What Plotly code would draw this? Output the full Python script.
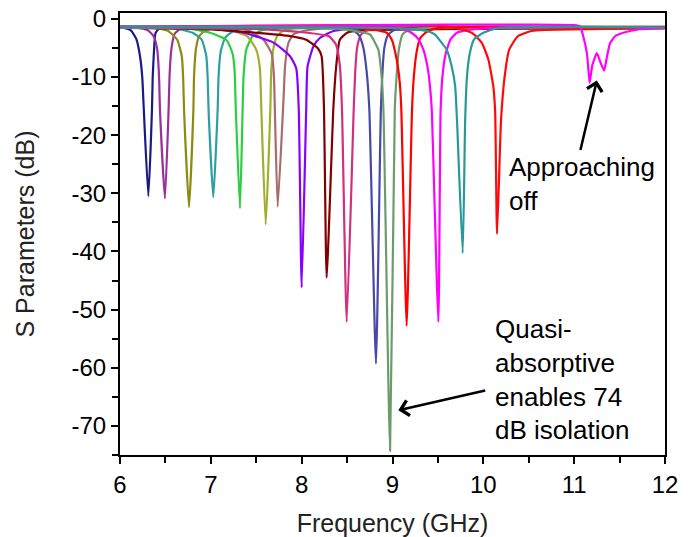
import plotly.graph_objects as go

# ---------------- data (frequency in GHz, S-parameter in dB) ----------------
f_navy = [6.0, 6.03, 6.12, 6.18, 6.22, 6.245, 6.262, 6.312, 6.352, 6.36, 6.375, 6.39, 6.43, 6.6, 12.0]
s_navy = [-1.4, -1.5, -2.0, -3.5, -6.4, -10.0, -15.6, -30.5, -15.6, -10.0, -5.3, -2.5, -1.7, -1.5, -1.5]

f_purple = [6.0, 6.18, 6.30, 6.37, 6.41, 6.43, 6.44, 6.495, 6.535, 6.545, 6.565, 6.60, 6.66, 6.8, 12.0]
s_purple = [-1.4, -1.5, -1.9, -3.0, -5.3, -10.0, -15.6, -30.9, -15.6, -10.0, -5.3, -2.6, -1.8, -1.5, -1.5]

f_olive = [6.0, 6.35, 6.53, 6.63, 6.68, 6.695, 6.705, 6.76, 6.808, 6.815, 6.835, 6.87, 6.95, 7.1, 12.0]
s_olive = [-1.5, -1.5, -2.1, -3.6, -6.4, -10.0, -15.6, -32.4, -15.6, -10.0, -5.3, -3.0, -1.9, -1.6, -1.5]

f_teal = [6.0, 6.59, 6.80, 6.90, 6.95, 6.965, 6.975, 7.027, 7.075, 7.085, 7.11, 7.16, 7.25, 7.4, 12.0]
s_teal = [-1.3, -1.6, -2.4, -3.6, -6.4, -10.0, -15.6, -30.7, -15.6, -10.0, -5.5, -3.2, -2.1, -1.6, -1.4]

f_green = [6.0, 6.7, 6.99, 7.17, 7.24, 7.262, 7.275, 7.321, 7.35, 7.36, 7.39, 7.45, 7.54, 7.7, 12.0]
s_green = [-1.4, -1.5, -2.4, -3.6, -6.0, -9.0, -15.6, -32.6, -15.6, -10.0, -5.3, -3.2, -2.1, -1.6, -1.5]

f_ygreen = [6.0, 7.0, 7.17, 7.40, 7.50, 7.54, 7.556, 7.604, 7.655, 7.665, 7.69, 7.73, 7.80, 7.95, 12.0]
s_ygreen = [-1.5, -1.5, -1.8, -3.0, -5.3, -8.5, -15.6, -35.4, -15.6, -9.0, -5.0, -3.0, -2.0, -1.6, -1.5]

f_brown = [6.0, 7.1, 7.4, 7.58, 7.67, 7.695, 7.705, 7.736, 7.80, 7.817, 7.853, 7.908, 8.02, 8.2, 12.0]
s_brown = [-1.5, -1.6, -1.9, -3.6, -6.0, -10.0, -15.6, -32.3, -13.9, -8.2, -4.2, -2.7, -2.1, -1.7, -1.5]

f_violet = [6.0, 7.0, 7.36, 7.69, 7.87, 7.94, 7.968, 8.0, 8.05, 8.065, 8.13, 8.20, 8.35, 8.6, 12.0]
s_violet = [-1.4, -1.7, -2.4, -4.1, -6.4, -8.5, -15.6, -46.2, -15.6, -8.2, -4.7, -3.3, -2.1, -1.7, -1.5]

f_darkred = [6.0, 7.0, 7.5, 7.84, 8.05, 8.18, 8.22, 8.245, 8.275, 8.35, 8.38, 8.42, 8.50, 8.65, 12.0]
s_darkred = [-1.5, -1.8, -2.4, -2.9, -3.6, -5.1, -6.5, -15.0, -44.5, -15.0, -8.2, -3.6, -2.4, -2.0, -1.6]

f_pink = [6.0, 7.6, 8.0, 8.30, 8.38, 8.42, 8.444, 8.496, 8.573, 8.59, 8.61, 8.65, 8.72, 8.9, 12.0]
s_pink = [-1.5, -1.8, -2.3, -3.0, -4.5, -8.0, -15.6, -52.1, -15.6, -9.0, -5.0, -2.8, -2.0, -1.6, -1.5]

f_slate = [6.0, 8.2, 8.55, 8.63, 8.68, 8.715, 8.745, 8.818, 8.872, 8.89, 8.91, 8.95, 9.02, 9.2, 12.0]
s_slate = [-1.5, -1.6, -1.8, -2.8, -5.0, -9.0, -15.6, -59.3, -15.6, -9.0, -5.0, -2.8, -1.9, -1.6, -1.5]

f_sage = [6.0, 8.4, 8.752, 8.807, 8.844, 8.88, 8.90, 8.973, 9.025, 9.045, 9.07, 9.11, 9.18, 9.4, 12.0]
s_sage = [-1.5, -1.7, -2.7, -4.1, -5.3, -9.9, -15.6, -74.3, -15.6, -9.9, -5.3, -2.7, -1.9, -1.6, -1.5]

f_red1 = [6.0, 8.6, 8.936, 8.99, 9.046, 9.08, 9.097, 9.156, 9.215, 9.235, 9.27, 9.31, 9.39, 9.5, 12.0]
s_red1 = [-1.4, -1.5, -2.4, -3.5, -7.0, -11.0, -15.6, -52.8, -15.6, -9.9, -5.3, -3.2, -2.1, -1.6, -1.4]

f_mag1 = [6.0, 9.0, 9.14, 9.21, 9.284, 9.34, 9.39, 9.415, 9.432, 9.505, 9.53, 9.55, 9.585, 9.64, 9.71, 9.84, 10.2, 12.0]
s_mag1 = [-1.4, -1.4, -1.9, -2.4, -3.5, -5.3, -8.7, -12.0, -15.6, -52.1, -15.6, -9.9, -6.0, -3.5, -2.4, -1.9, -1.5, -1.5]

f_teal2 = [6.0, 9.0, 9.377, 9.468, 9.54, 9.597, 9.652, 9.69, 9.71, 9.773, 9.80, 9.82, 9.85, 9.90, 10.0, 10.16, 12.0]
s_teal2 = [-1.3, -1.6, -2.1, -2.7, -4.1, -5.3, -8.2, -11.6, -17.4, -40.3, -17.4, -9.9, -6.0, -3.5, -2.4, -1.6, -1.5]

f_red2 = [6.0, 9.6, 9.872, 9.982, 10.055, 10.11, 10.13, 10.151, 10.195, 10.235, 10.285, 10.38, 10.53, 10.68, 12.0]
s_red2 = [-1.4, -1.3, -2.4, -4.1, -7.0, -11.6, -16.0, -37.0, -17.4, -9.9, -5.3, -3.0, -2.1, -1.9, -1.6]

f_mag2 = [6.0, 8.0, 9.6, 10.5, 11.0, 11.065, 11.10, 11.14, 11.156, 11.17, 11.20, 11.25, 11.29, 11.33, 11.36, 11.395, 11.45, 11.54, 11.72, 12.0]
s_mag2 = [-1.4, -1.2, -1.0, -1.0, -1.1, -1.3, -3.0, -5.9, -8.6, -11.0, -8.0, -5.9, -7.5, -8.9, -6.6, -4.2, -3.0, -2.4, -1.8, -1.6]

x_ticks = [6, 7, 8, 9, 10, 11, 12]
y_ticks = [0, -10, -20, -30, -40, -50, -60, -70]
y_tick_text = ["0", "-10", "-20", "-30", "-40", "-50", "-60", "-70"]

# ---------------- styling ----------------
series = [
    (f_navy, s_navy, "#1a1a85"),
    (f_purple, s_purple, "#9a309a"),
    (f_olive, s_olive, "#8c8a10"),
    (f_teal, s_teal, "#2f9ea4"),
    (f_green, s_green, "#28d040"),
    (f_ygreen, s_ygreen, "#a0ae30"),
    (f_brown, s_brown, "#a86a6a"),
    (f_violet, s_violet, "#8a00ff"),
    (f_darkred, s_darkred, "#820000"),
    (f_pink, s_pink, "#d0307e"),
    (f_slate, s_slate, "#4848a8"),
    (f_sage, s_sage, "#6c9c6c"),
    (f_red1, s_red1, "#ff0000"),
    (f_mag1, s_mag1, "#ff00ff"),
    (f_red2, s_red2, "#ff0a0a"),
    (f_mag2, s_mag2, "#ff00ff"),
    (f_teal2, s_teal2, "#2a9898"),
]

fig = go.Figure()
for fx, sy, col in series:
    fig.add_trace(go.Scatter(x=fx, y=sy, mode="lines",
                             line=dict(color=col, width=2.2, shape="spline", smoothing=0.5),
                             showlegend=False, hoverinfo="skip"))

font_family = "Liberation Sans, Arial, sans-serif"

# the page body adds an 8 px offset, so the figure is 8 px smaller than the window
fig.update_layout(
    width=686, height=529,
    margin=dict(l=112, r=29, t=5, b=82),
    paper_bgcolor="white", plot_bgcolor="white",
    font=dict(family=font_family, color="black"),
    showlegend=False,
)

fig.update_xaxes(
    range=[6, 12], tickvals=x_ticks, ticktext=[str(v) for v in x_ticks],
    automargin=False, ticklabeloverflow="allow",
    showgrid=False, zeroline=False,
    showline=True, mirror=True, linecolor="black", linewidth=2,
    ticks="outside", ticklen=7, tickwidth=2, tickcolor="black",
    minor=dict(dtick=0.5, ticks="outside", ticklen=6, tickwidth=2, tickcolor="black", showgrid=False),
    tickfont=dict(size=24, family=font_family, color="black"),
    title=dict(text="Frequency (GHz)", font=dict(size=25, family=font_family, color="#222"), standoff=18),
)
fig.update_yaxes(
    range=[-75, 1], tickvals=y_ticks, ticktext=y_tick_text,
    automargin=False, ticklabeloverflow="allow",
    showgrid=False, zeroline=False,
    showline=True, mirror=True, linecolor="black", linewidth=2,
    ticks="outside", ticklen=7, tickwidth=2, tickcolor="black",
    minor=dict(dtick=5, tick0=0, ticks="outside", ticklen=6, tickwidth=2, tickcolor="black", showgrid=False),
    tickfont=dict(size=24, family=font_family, color="black"),
    title=dict(text="S Parameters (dB)", font=dict(size=25, family=font_family, color="#222"), standoff=30),
)

# arrows
fig.add_annotation(x=11.25, y=-10.6, ax=11.065, ay=-22.8, xref="x", yref="y", axref="x", ayref="y",
                   text="", showarrow=True, arrowhead=4, arrowsize=1.2, arrowwidth=2.5, arrowcolor="black")
fig.add_annotation(x=9.064, y=-67.3, ax=10.037, ay=-63.85, xref="x", yref="y", axref="x", ayref="y",
                   text="", showarrow=True, arrowhead=4, arrowsize=1.2, arrowwidth=2.5, arrowcolor="black")

# labels
fig.add_annotation(x=10.258, y=-28.4, xref="x", yref="y", text="Approaching<br>off",
                   showarrow=False, xanchor="left", yanchor="middle", align="left",
                   font=dict(size=26, family=font_family, color="black"))
fig.add_annotation(x=10.11, y=-62.0, xref="x", yref="y", text="Quasi-<br>absorptive<br>enables 74<br>dB isolation",
                   showarrow=False, xanchor="left", yanchor="middle", align="left",
                   font=dict(size=26, family=font_family, color="black"))

fig.write_html("out.html")
